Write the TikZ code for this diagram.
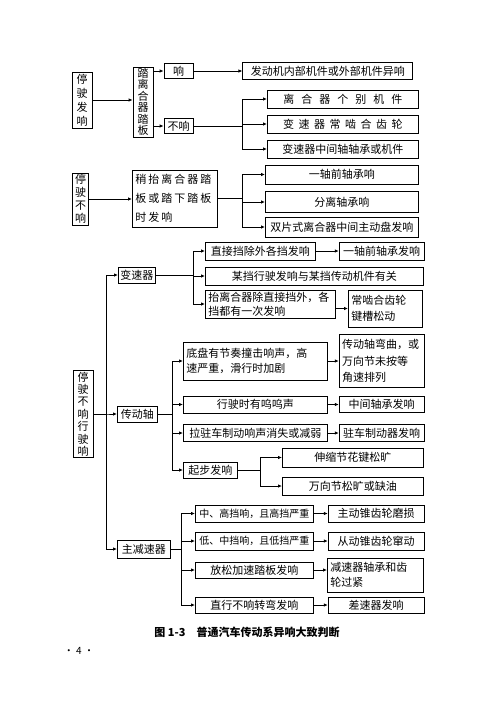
\documentclass[tikz,border=0pt]{standalone}
\usepackage{fontspec}
\setmainfont{Noto Sans CJK SC}
\newfontfamily\widefont[LetterSpace=18]{Noto Sans CJK SC}
\usepackage{tikz}
\usetikzlibrary{arrows.meta,positioning}
\newcommand{\fsz}[2]{\fontsize{#1}{#2}\selectfont}
\newcommand{\chgap}[1]{\hspace{#1}}
\tikzset{
  box/.style={rectangle, draw=black, line width=0.8pt, inner xsep=2pt, inner ysep=1pt,
    align=center, font=\fsz{11}{14}},
  vbox/.style={box, inner xsep=1pt, minimum width=20pt},
  note/.style={box, align=left, inner xsep=3pt, text width=#1},
  arr/.style={-{Latex[length=4pt,width=3.5pt]}, line width=0.8pt},
}
\begin{document}
\begin{tikzpicture}[x=1pt, y=-1pt]
  \useasboundingbox (0,0) rectangle (490,720);
  % noise when standing (top block)
  \node[vbox, minimum height=56pt] (stopnoise) at (82,100) {停\\驶\\发\\响};
  \node[vbox, minimum height=70pt, font=\fsz{11}{11.5}] (pedal) at (143,102) {踏\\离\\合\\器\\踏\\板};
  \node[box, minimum width=29pt, minimum height=15pt] (yes) at (178.5,71) {响};
  \node[box, minimum width=29pt, minimum height=15pt] (no) at (178.5,126) {不响};
  \node[box, minimum width=170pt, minimum height=17pt, right=49pt of yes] (engine)
    {发动机内部机件或外部机件异响};
  \coordinate (bus1) at (242,0);
  \node[box, anchor=west, minimum width=151pt, minimum height=18pt] (clutchpart) at (267,99)
    {离\chgap{7pt}合\chgap{7pt}器\chgap{7pt}个\chgap{7pt}别\chgap{7pt}机\chgap{7pt}件};
  \node[box, anchor=west, minimum width=151pt, minimum height=18pt] (gearmesh) at (267,124)
    {变\chgap{4.5pt}速\chgap{4.5pt}器\chgap{4.5pt}常\chgap{4.5pt}啮\chgap{4.5pt}合\chgap{4.5pt}齿\chgap{4.5pt}轮};
  \node[box, anchor=west, minimum width=151pt, minimum height=18pt] (midshaft) at (267,149)
    {变速器中间轴轴承或机件};
  \draw[arr] (stopnoise.east) -- (stopnoise.east -| pedal.west);
  \draw[arr] (pedal.east |- yes.west) -- (yes.west);
  \draw[arr] (pedal.east |- no.west) -- (no.west);
  \draw[arr] (yes.east) -- (yes.east -| engine.west);
  \draw[arr] (no.east) -- (no.east -| bus1) |- (clutchpart.west);
  \draw[arr] (no.east) -- (no.east -| bus1) |- (gearmesh.west);
  \draw[arr] (no.east) -- (no.east -| bus1) |- (midshaft.west);

  % quiet when standing (middle block)
  \node[vbox, minimum width=16pt, minimum height=52pt, font=\fsz{11}{13}] (stopquiet) at (80.5,199)
    {停\\驶\\不\\响};
  \node[note=79pt, anchor=west, minimum height=57pt, font=\widefont\fsz{11}{19}] (pedalpart) at (132,198.5)
    {稍抬离合器踏\\板或踏下踏板\\时发响};
  \coordinate (bus2) at (242,0);
  \node[box, anchor=west, minimum width=153pt, minimum height=19pt] (frontbearing) at (265,174.5)
    {一轴前轴承响};
  \node[box, anchor=west, minimum width=153pt, minimum height=21pt] (releasebearing) at (265,202)
    {分离轴承响};
  \node[box, anchor=west, minimum width=153pt, minimum height=20pt] (dualplate) at (265,227)
    {双片式离合器中间主动盘发响};
  \draw[arr] (stopquiet.east) -- (stopquiet.east -| pedalpart.west);
  \draw[arr] (pedalpart.east) -- (pedalpart.east -| bus2) |- (frontbearing.west);
  \draw[arr] (pedalpart.east) -- (pedalpart.east -| bus2) |- (releasebearing.west);
  \draw[arr] (pedalpart.east) -- (pedalpart.east -| bus2) |- (dualplate.west);

  % noise only when driving (bottom block)
  \node[vbox, minimum height=87pt, font=\fsz{11}{12.4}] (drivenoise) at (83,414)
    {停\\驶\\不\\响\\行\\驶\\响};
  \coordinate (trunk) at (106,0);
  \node[box, anchor=west, minimum width=37pt, minimum height=16pt] (gearbox) at (118,275) {变速器};
  \node[box, anchor=west, minimum width=40pt, minimum height=16pt] (shaft) at (117,414) {传动轴};
  \node[box, anchor=west, minimum width=53pt, minimum height=18pt] (finaldrive) at (117,549) {主减速器};
  \draw[arr] (drivenoise.east) -- (drivenoise.east -| trunk) |- (gearbox.west);
  \draw[arr] (drivenoise.east) -- (drivenoise.east -| trunk) |- (shaft.west);
  \draw[arr] (drivenoise.east) -- (drivenoise.east -| trunk) |- (finaldrive.west);

  % gearbox
  \coordinate (gbus) at (193,0);
  \node[box, anchor=west, minimum width=110pt, minimum height=18pt] (direct) at (205,251)
    {直接挡除外各挡发响};
  \node[box, minimum width=85pt, minimum height=18pt, right=23pt of direct] (frontbrg)
    {一轴前轴承发响};
  \node[box, anchor=west, minimum width=218pt, minimum height=18pt] (onegear) at (205,276)
    {某挡行驶发响与某挡传动机件有关};
  \node[note=124pt, anchor=west, minimum height=28pt] (clutchup) at (205,304)
    {抬离合器除直接挡外，各\\挡都有一次发响};
  \node[note=68pt, anchor=west, minimum height=37pt, font=\fsz{11}{16}] (keyway) at (348,308.5)
    {常啮合齿轮\\键槽松动};
  \draw[arr] (gearbox.east) -- (gearbox.east -| gbus) |- (direct.west);
  \draw[arr] (gearbox.east) -- (gearbox.east -| gbus) |- (onegear.west);
  \draw[arr] (gearbox.east) -- (gearbox.east -| gbus) |- (clutchup.west);
  \draw[arr] (direct) -- (frontbrg);
  \draw[arr] (clutchup.east |- keyway.west) -- (keyway.west);

  % drive shaft
  \coordinate (sbus) at (172,0);
  \node[note=138pt, anchor=west, minimum height=38pt, font=\fsz{11}{15}] (rhythm) at (183,361)
    {底盘有节奏撞击响声，高\\速严重，滑行时加剧};
  \node[note=79pt, minimum height=53pt, font=\fsz{11}{16.5}, right=11pt of rhythm] (bent)
    {传动轴弯曲，或\\万向节未按等\\角速排列};
  \node[box, anchor=west, minimum width=144pt, minimum height=17pt] (whine) at (183,404.5)
    {行驶时有呜呜声};
  \node[box, minimum width=85pt, minimum height=16pt, right=11pt of whine] (midbrg) {中间轴承发响};
  \node[box, anchor=west, minimum width=144pt, minimum height=17pt] (handbrake) at (183,433)
    {拉驻车制动响声消失或减弱};
  \node[box, minimum width=85pt, minimum height=17pt, right=11pt of handbrake] (parkbrake)
    {驻车制动器发响};
  \node[box, anchor=west, minimum width=54pt, minimum height=16pt] (start) at (183,470) {起步发响};
  \coordinate (jbus) at (260,0);
  \node[box, anchor=west, minimum width=141pt, minimum height=19pt] (spline) at (282,457.5)
    {伸缩节花键松旷};
  \node[box, anchor=west, minimum width=141pt, minimum height=18pt] (ujoint) at (282,486)
    {万向节松旷或缺油};
  \draw[arr] (shaft.east) -- (shaft.east -| sbus) |- (rhythm.west);
  \draw[arr] (shaft.east) -- (shaft.east -| sbus) |- (whine.west);
  \draw[arr] (shaft.east) -- (shaft.east -| sbus) |- (handbrake.west);
  \draw[arr] (shaft.east) -- (shaft.east -| sbus) |- (start.west);
  \draw[arr] (rhythm) -- (bent);
  \draw[arr] (whine) -- (midbrg);
  \draw[arr] (handbrake) -- (parkbrake);
  \draw[arr] (start.east) -- (start.east -| jbus) |- (spline.west);
  \draw[arr] (start.east) -- (start.east -| jbus) |- (ujoint.west);

  % final drive
  \coordinate (fbus) at (181,0);
  \node[box, anchor=west, minimum width=118pt, minimum height=17pt, font=\fsz{10}{14}] (midhigh) at (195,513.5)
    {中、高挡响，且高挡严重};
  \node[box, minimum width=96pt, minimum height=17pt, right=14pt of midhigh] (pinion) {主动锥齿轮磨损};
  \node[box, anchor=west, minimum width=118pt, minimum height=18pt, font=\fsz{10}{14}] (lowmid) at (195,541)
    {低、中挡响，且低挡严重};
  \node[box, minimum width=96pt, minimum height=18pt, right=14pt of lowmid] (crown) {从动锥齿轮窜动};
  \node[box, anchor=west, minimum width=118pt, minimum height=16pt] (throttle) at (195,570)
    {放松加速踏板发响};
  \node[note=90pt, anchor=west, minimum height=34pt, font=\fsz{11}{15}] (tight) at (327,575)
    {减速器轴承和齿\\轮过紧};
  \node[box, anchor=west, minimum width=118pt, minimum height=16pt] (turn) at (195,605)
    {直行不响转弯发响};
  \node[box, minimum width=96pt, minimum height=16pt, right=14pt of turn] (diff) {差速器发响};
  \draw[arr] (finaldrive.east) -- (finaldrive.east -| fbus) |- (midhigh.west);
  \draw[arr] (finaldrive.east) -- (finaldrive.east -| fbus) |- (lowmid.west);
  \draw[arr] (finaldrive.east) -- (finaldrive.east -| fbus) |- (throttle.west);
  \draw[arr] (finaldrive.east) -- (finaldrive.east -| fbus) |- (turn.west);
  \draw[arr] (midhigh) -- (pinion);
  \draw[arr] (lowmid) -- (crown);
  \draw[arr] (throttle.east) -- (throttle.east -| tight.west);
  \draw[arr] (turn) -- (diff);

  % caption and page number
  \node[font=\fsz{11}{14}\bfseries] (caption) at (247,632) {图 1-3\quad 普通汽车传动系异响大致判断};
  \node[font=\fsz{10}{12}] (page) at (79,651) {· 4 ·};
\end{tikzpicture}
\end{document}
